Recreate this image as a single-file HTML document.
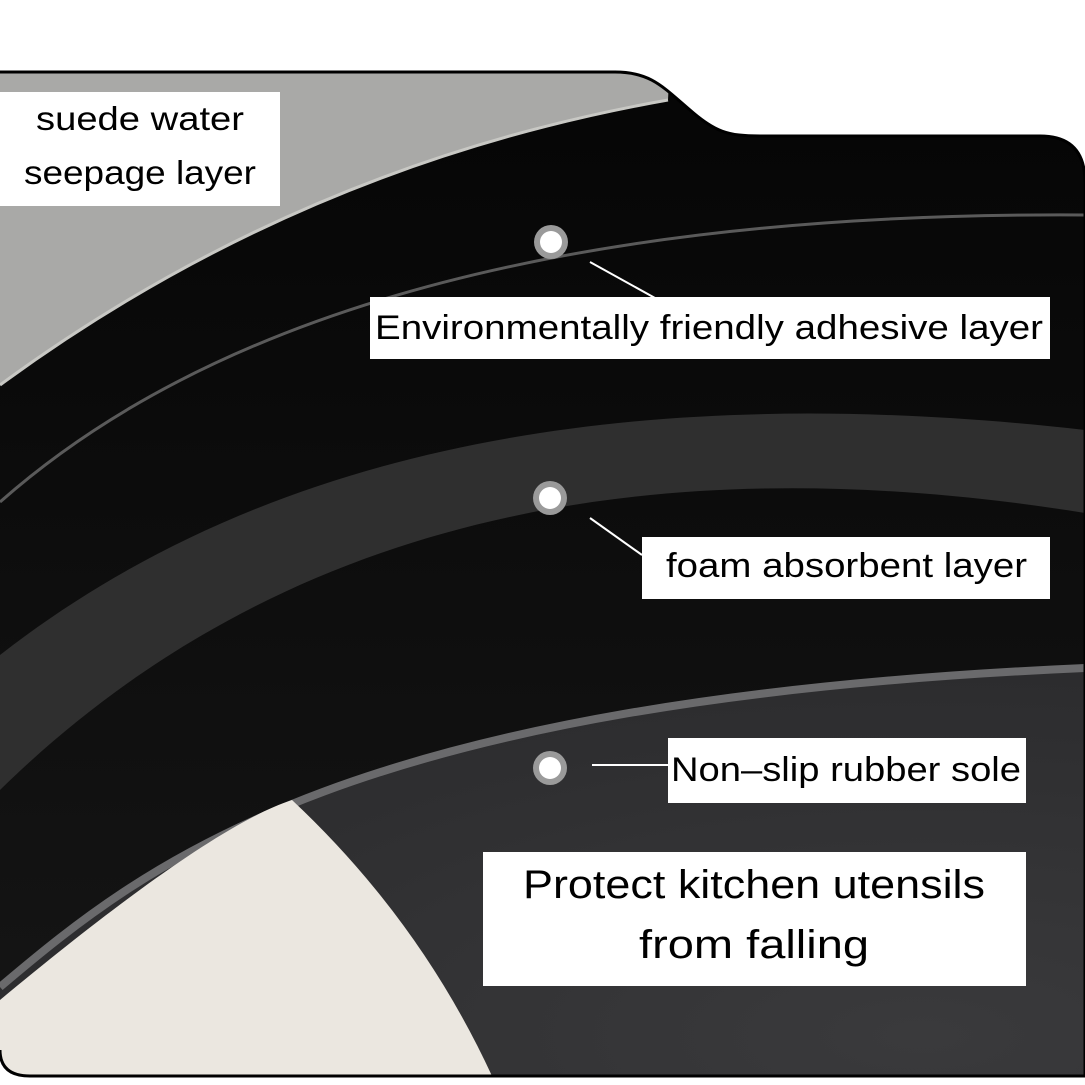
<!DOCTYPE html>
<html><head><meta charset="utf-8"><style>
html,body{margin:0;padding:0;background:#fff;}
svg{display:block;}
text{font-family:"Liberation Sans",sans-serif;fill:#000;}
</style></head><body>
<svg width="1085" height="1085" viewBox="0 0 1085 1085" xmlns="http://www.w3.org/2000/svg">
<defs>
<clipPath id="c"><path d="M0,72 L615,72 C650,72 662,86 690,110 C715,132 728,136 760,136 L1040,136 Q1085,136 1085,182 L1085,1076 L30,1076 Q0,1076 0,1050 Z"/></clipPath>
<radialGradient id="rg" cx="0.85" cy="0.9" r="0.9"><stop offset="0" stop-color="#3a3a3c"/><stop offset="1" stop-color="#2c2c2e"/></radialGradient>
<linearGradient id="bl" x1="0" y1="0" x2="0" y2="1"><stop offset="0" stop-color="#050505"/><stop offset="1" stop-color="#161616"/></linearGradient>
</defs>
<rect width="1085" height="1085" fill="#fff"/>
<g clip-path="url(#c)">
<rect x="0" y="60" width="1085" height="1030" fill="url(#bl)"/>
<path d="M0,60 L670,60 L668,100 Q300,165 0,385 Z" fill="#a9a9a7"/>
<path d="M668,100 Q300,165 0,385" fill="none" stroke="#c8c8c4" stroke-width="3"/>
<path d="M0,502 Q330,210 1085,215" fill="none" stroke="#5a5a5a" stroke-width="3"/>
<path d="M0,655 C250,460 600,375 1085,430 L1085,513 C600,435 250,545 0,790 Z" fill="#2f2f2f"/>
<path d="M0,987 C150,860 350,700 1085,668 L1085,1076 L0,1076 Z" fill="url(#rg)"/>
<path d="M0,987 C150,860 350,700 1085,668" fill="none" stroke="#6a6a6c" stroke-width="8"/>
<path d="M0,1000 C120,900 230,820 292,800 Q420,920 492,1076 L0,1076 Z" fill="#ebe7e0"/>
</g>
<path d="M0,72 L615,72 C650,72 662,86 690,110 C715,132 728,136 760,136 L1040,136 Q1085,136 1085,182 L1085,1076 L30,1076 Q0,1076 0,1050" fill="none" stroke="#000" stroke-width="3"/>
<rect x="0" y="92" width="280" height="114" fill="#fff"/>
<text x="140" y="130" font-size="33" text-anchor="middle" textLength="208" lengthAdjust="spacingAndGlyphs">suede water</text>
<text x="140" y="184" font-size="33" text-anchor="middle" textLength="232" lengthAdjust="spacingAndGlyphs">seepage layer</text>
<g>
<circle cx="551" cy="242" r="17" fill="#9a9a9a"/><circle cx="551" cy="242" r="11" fill="#fff"/>
<circle cx="550" cy="498" r="17" fill="#9a9a9a"/><circle cx="550" cy="498" r="11" fill="#fff"/>
<circle cx="550" cy="768" r="17" fill="#9a9a9a"/><circle cx="550" cy="768" r="11" fill="#fff"/>
</g>
<line x1="590" y1="262" x2="655" y2="298" stroke="#fff" stroke-width="2"/>
<line x1="590" y1="518" x2="642" y2="555" stroke="#fff" stroke-width="2"/>
<line x1="592" y1="765" x2="670" y2="765" stroke="#fff" stroke-width="2"/>
<rect x="370" y="297" width="680" height="62" fill="#fff"/>
<text x="375" y="339" font-size="34" textLength="668" lengthAdjust="spacingAndGlyphs">Environmentally friendly adhesive layer</text>
<rect x="642" y="537" width="408" height="62" fill="#fff"/>
<text x="666" y="577" font-size="34" textLength="361" lengthAdjust="spacingAndGlyphs">foam absorbent layer</text>
<rect x="668" y="738" width="358" height="65" fill="#fff"/>
<text x="671" y="781" font-size="34" textLength="350" lengthAdjust="spacingAndGlyphs">Non–slip rubber sole</text>
<rect x="483" y="852" width="543" height="134" fill="#fff"/>
<text x="754" y="898" font-size="40" text-anchor="middle" textLength="462" lengthAdjust="spacingAndGlyphs">Protect kitchen utensils</text>
<text x="754" y="958" font-size="40" text-anchor="middle" textLength="230" lengthAdjust="spacingAndGlyphs">from falling</text>
</svg>
</body></html>
